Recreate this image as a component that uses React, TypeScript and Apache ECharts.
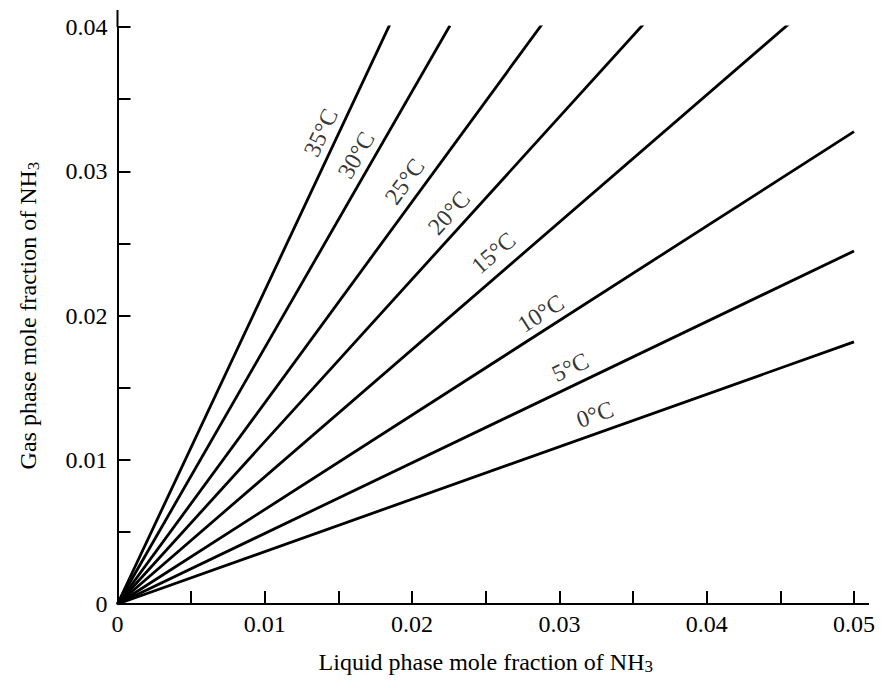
import React, { useEffect, useRef } from "react";
import * as echarts from "echarts";

const temperatures = ["35°C", "30°C", "25°C", "20°C", "15°C", "10°C", "5°C", "0°C"];
// end points of each equilibrium line (liquid x, gas y); all start at origin
const endX = [0.0185, 0.02257, 0.0289, 0.0358, 0.0459, 0.05, 0.05, 0.05];
const endY = [0.0402, 0.0401, 0.0403, 0.0403, 0.0405, 0.03275, 0.02447, 0.01817];
// label anchor positions (data coords)
const labelX = [0.0138, 0.01621, 0.01949, 0.0225, 0.02552, 0.02873, 0.03074, 0.03242];
const labelY = [0.03268, 0.03112, 0.02929, 0.02712, 0.02434, 0.02014, 0.01641, 0.01315];

const xTickLabels = ["0", "0.01", "0.02", "0.03", "0.04", "0.05"];
const yTickLabels = ["0", "0.01", "0.02", "0.03", "0.04"];

const FONT = "Liberation Serif";

function fmt(v: number, labels: string[]) {
  const k = Math.round(v / 0.005);
  if (k % 2 !== 0) return "";
  return labels[k / 2] ?? "";
}

export default function App() {
  const ref = useRef<HTMLDivElement>(null);
  useEffect(() => {
    if (!ref.current) return;
    const chart = echarts.init(ref.current, null, { renderer: "svg" });
    const lineSeries = temperatures.map((t, i) => ({
      type: "line",
      name: t,
      data: [
        [0, 0],
        [endX[i], endY[i]],
      ],
      symbol: "none",
      silent: true,
      lineStyle: { color: "#000", width: 2.8 },
      z: 3,
    }));
    const makeLabelSeries = (angles: number[]) => ({
      type: "scatter",
      symbolSize: 0,
      silent: true,
      data: temperatures.map((t, i) => ({
        name: t,
        value: [labelX[i], labelY[i]],
        label: { rotate: angles[i] },
      })),
      label: {
        show: true,
        position: "inside",
        formatter: "{b}",
        color: "#000",
        fontFamily: FONT,
        fontSize: 24,
      },
      z: 4,
    });
    const option: any = {
      animation: false,
      backgroundColor: "#fff",
      grid: { left: 104, right: 20, top: 19, bottom: 63, containLabel: false },
      xAxis: {
        type: "value",
        min: 0,
        max: 0.05,
        interval: 0.005,
        splitLine: { show: false },
        axisLine: { show: true, onZero: false, lineStyle: { color: "#000", width: 2 } },
        axisTick: { show: true, inside: true, length: 13, lineStyle: { color: "#000", width: 2 } },
        axisLabel: {
          formatter: (v: number) => fmt(v, xTickLabels),
          color: "#000",
          fontFamily: FONT,
          fontSize: 24,
          margin: 8,
          showMaxLabel: true,
        },
        name: "Liquid phase mole fraction of NH{sub|3}",
        nameLocation: "middle",
        nameGap: 44,
        nameTextStyle: {
          color: "#000",
          fontFamily: FONT,
          fontSize: 24,
          rich: { sub: { fontSize: 17, fontFamily: FONT, color: "#000", padding: [10, 0, 0, 0] } },
        },
      },
      yAxis: {
        type: "value",
        min: 0,
        max: 0.04,
        interval: 0.005,
        splitLine: { show: false },
        axisLine: { show: true, onZero: false, lineStyle: { color: "#000", width: 2 } },
        axisTick: { show: true, inside: true, length: 13, lineStyle: { color: "#000", width: 2 } },
        axisLabel: {
          formatter: (v: number) => fmt(v, yTickLabels),
          color: "#000",
          fontFamily: FONT,
          fontSize: 24,
          margin: 10,
          showMaxLabel: true,
        },
        name: "Gas phase mole fraction of NH{sub|3}",
        nameLocation: "middle",
        nameGap: 76,
        nameTextStyle: {
          color: "#000",
          fontFamily: FONT,
          fontSize: 24,
          rich: { sub: { fontSize: 17, fontFamily: FONT, color: "#000", padding: [10, 0, 0, 0] } },
        },
      },
      series: [...lineSeries, makeLabelSeries(temperatures.map(() => 0))],
    };
    chart.setOption(option);

    const angles = temperatures.map((_, i) => {
      const p0 = chart.convertToPixel({ gridIndex: 0 }, [0, 0]) as number[];
      const p1 = chart.convertToPixel({ gridIndex: 0 }, [endX[i], endY[i]]) as number[];
      return (Math.atan2(p0[1] - p1[1], p1[0] - p0[0]) * 180) / Math.PI;
    });
    const o = chart.convertToPixel({ gridIndex: 0 }, [0, 0]) as number[];
    const xe = chart.convertToPixel({ gridIndex: 0 }, [0.05, 0.04]) as number[];
    chart.setOption({
      series: [...lineSeries, makeLabelSeries(angles)],
      graphic: [
        { type: "line", shape: { x1: xe[0], y1: o[1], x2: xe[0] + 15, y2: o[1] }, style: { stroke: "#000", lineWidth: 2 } },
        { type: "line", shape: { x1: o[0], y1: xe[1], x2: o[0], y2: xe[1] - 17 }, style: { stroke: "#000", lineWidth: 2 } },
      ],
    });
    return () => chart.dispose();
  }, []);
  return <div ref={ref} style={{ width: 870, height: 672 }} />;
}
